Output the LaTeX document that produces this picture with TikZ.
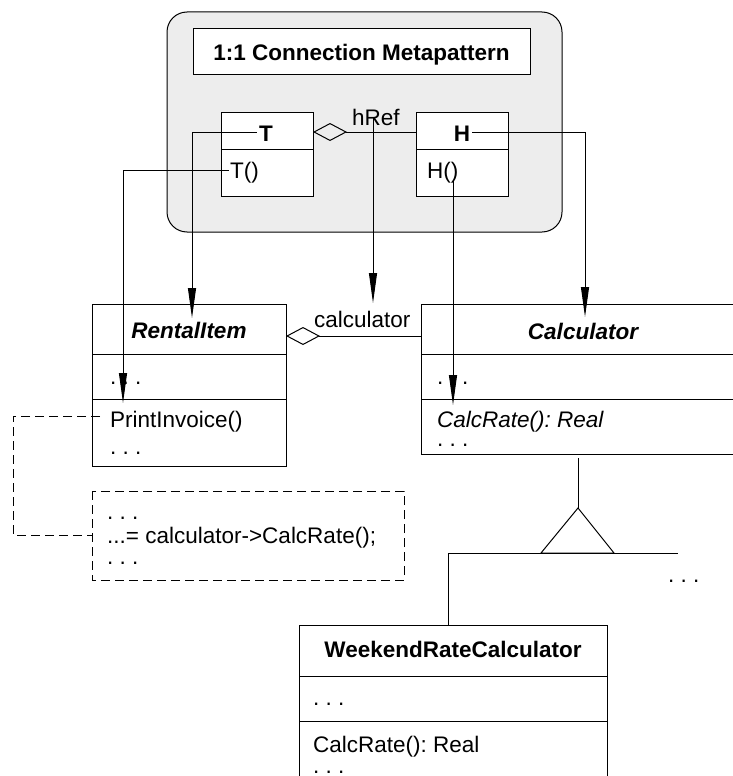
\documentclass[tikz,border=0pt]{standalone}
\usepackage{fontspec}
\setmainfont{Liberation Sans}
\usetikzlibrary{arrows.meta}
\frenchspacing
\definecolor{panelgray}{HTML}{EDEDED}
\tikzset{
  txt/.style={inner sep=0pt, font=\fontsize{22.5}{27}\selectfont},
  lbl/.style={txt, anchor=base west},
  ttl/.style={txt, anchor=base, font=\fontsize{22.5}{27}\selectfont\bfseries},
  ittl/.style={txt, anchor=base, font=\fontsize{22.5}{27}\selectfont\bfseries\itshape},
  box/.style={draw=black, line width=1pt},
  conn/.style={draw=black, line width=1pt},
  dep/.style={conn, -{Triangle[length=30pt,width=8pt]}},
  agg/.style={conn, {Diamond[open,length=34pt,width=18pt]}-},
  note/.style={draw=black, line width=1pt, dash pattern=on 9pt off 5pt},
}
\begin{document}
\begin{tikzpicture}[x=1pt,y=-1pt]
\useasboundingbox (0,0) rectangle (733,776);

% metapattern panel
\draw[box, fill=panelgray, rounded corners=20pt] (167,12) rectangle (562,232);
\node[box, fill=white, minimum width=337pt, minimum height=45pt, inner sep=0pt] (titlebox) at (361.5,51.5) {};
\node[ttl] (title) at (361.5,60) {1:1 Connection Metapattern};

% class T
\draw[box, fill=white] (221,112) rectangle (313,196);
\draw[box] (221,149) -- (313,149);
\coordinate (Tright) at (313,132);
\node[ttl] (T) at (266,141) {T};
\node[lbl] (Tctor) at (230,178) {T()};

% class H
\draw[box, fill=white] (416,112) rectangle (508,196);
\draw[box] (416,149) -- (508,149);
\coordinate (Hleft) at (416,132);
\node[ttl] (H) at (462,141) {H};
\node[lbl] (Hctor) at (427,178) {H()};

% hRef aggregation
\draw[agg] (Tright) -- (Hleft);
\node[lbl] (href) at (352,125) {hRef};

% class RentalItem
\draw[box] (92,304) rectangle (286,466);
\draw[box] (92,354) -- (286,354);
\draw[box] (92,399) -- (286,399);
\coordinate (RIright) at (286,336);
\node[ittl] (RI) at (189,338) {RentalItem};
\node[lbl] (RIattr) at (110,384) {. . .};
\node[lbl] (print) at (110,427) {PrintInvoice()};
\node[lbl] (RImore) at (110,454) {. . .};

% class Calculator (runs off the right edge)
\draw[box] (733,304) -- (421,304) -- (421,454) -- (733,454);
\draw[box] (421,354) -- (733,354);
\draw[box] (421,399) -- (733,399);
\coordinate (Cleft) at (421,336);
\coordinate (Cbottom) at (578,458);
\node[ittl] (Calc) at (583,339) {Calculator};
\node[lbl] (Cattr) at (437,384) {. . .};
\node[lbl, font=\fontsize{22.5}{27}\selectfont\itshape] (calcrate) at (437,427) {CalcRate(): Real};
\node[lbl] (Cmore) at (437,446) {. . .};

% calculator aggregation
\draw[agg] (RIright) -- (Cleft);
\node[lbl] (calclbl) at (314,327) {calculator};

% class WeekendRateCalculator (runs off the bottom edge)
\draw[box] (299,780) -- (299,625) -- (607,625) -- (607,780);
\draw[box] (299,676) -- (607,676);
\draw[box] (299,721) -- (607,721);
\coordinate (Wtop) at (448,625);
\node[ttl] (W) at (453,657) {WeekendRateCalculator};
\node[lbl] (Wattr) at (313,705) {. . .};
\node[lbl] (Wop) at (313,752) {CalcRate(): Real};
\node[lbl] (Wmore) at (313,773) {. . .};

% generalization
\coordinate (apex) at (578,508);
\coordinate (triL) at (541,553);
\coordinate (triR) at (614,553);
\coordinate (busL) at (448,553);
\coordinate (busR) at (678,553);
\draw[conn] (Cbottom) -- (apex);
\draw[conn] (apex) -- (triL) -- (triR) -- cycle;
\draw[conn] (busL) -- (busR);
\draw[conn] (busL) -- (Wtop);
\node[lbl] (others) at (668,582) {. . .};

% code note
\draw[note] (92,491) rectangle (404,580);
\coordinate (noteleft) at (92,535);
\node[lbl] (n1) at (107,519) {. . .};
\node[lbl] (n2) at (107,543) {...= calculator->CalcRate();};
\node[lbl] (n3) at (107,564) {. . .};
\coordinate (printleft) at (100,416);
\draw[note] (printleft) -- (13,416) -- (13,535) -- (noteleft);

% metapattern bindings
\coordinate (hrefFoot) at (373,118);
\coordinate (HctorFoot) at (453,180);
\coordinate (TtoRI) at (192,318);
\coordinate (TctorToPrint) at (123,403);
\coordinate (hrefToCalc) at (373,303);
\coordinate (HctorToCalc) at (453,405);
\coordinate (HtoCalc) at (585,317);
\draw[dep] ([xshift=-2pt]T.west |- Tright) -| (TtoRI);
\draw[dep] ([xshift=-1pt]Tctor.west |- 0,170) -| (TctorToPrint);
\draw[dep] (hrefFoot) -- (hrefToCalc);
\draw[dep] (HctorFoot) -- (HctorToCalc);
\draw[dep] ([xshift=2pt]H.east |- Tright) -| (HtoCalc);
\end{tikzpicture}
\end{document}
